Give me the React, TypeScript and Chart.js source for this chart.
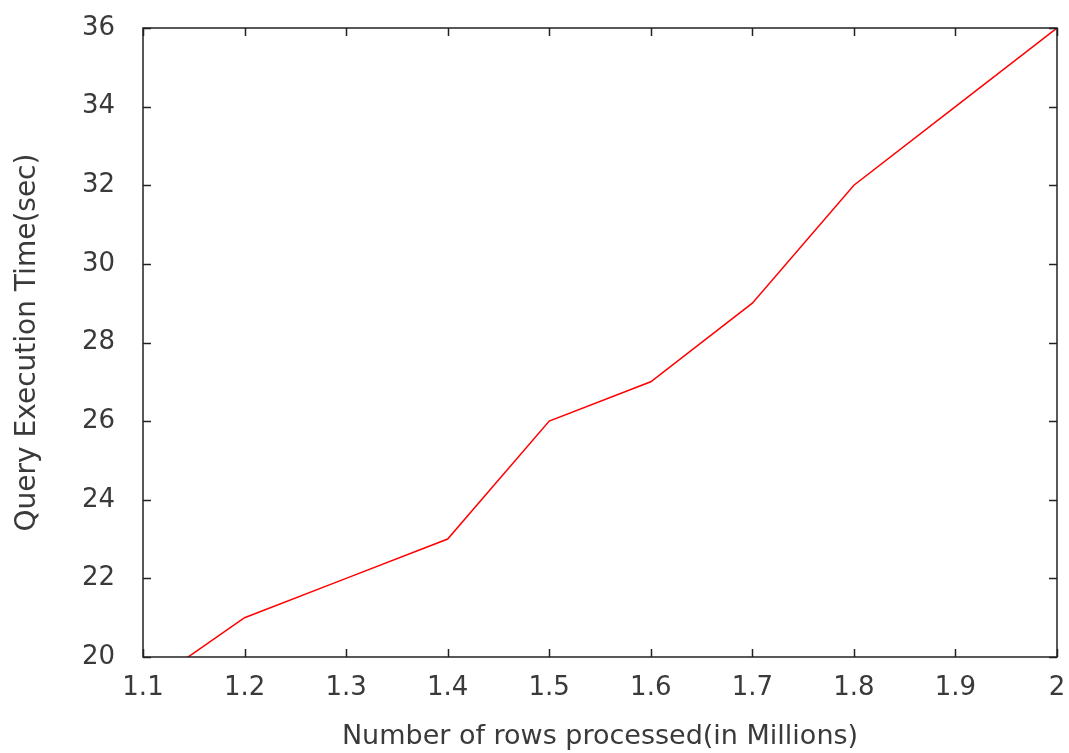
import React, { useEffect, useRef } from "react";
import { Chart, registerables } from "chart.js";

Chart.register(...registerables);

const rowsMillions = [1.1, 1.2, 1.3, 1.4, 1.5, 1.6, 1.7, 1.8, 1.9, 2.0];
const queryTimeSec = [19.2, 21, 22, 23, 26, 27, 29, 32, 34, 36];
const xTickValues = [1.1, 1.2, 1.3, 1.4, 1.5, 1.6, 1.7, 1.8, 1.9, 2];
const yTickValues = [20, 22, 24, 26, 28, 30, 32, 34, 36];

const TEXT = "#3a3a3a";
const FONT = "'DejaVu Sans', sans-serif";

const frameTicks = {
  id: "frameTicks",
  afterDraw(chart: any) {
    const { ctx, chartArea } = chart;
    const xs = chart.scales.x;
    const ys = chart.scales.y;
    const L = 8;
    ctx.save();
    ctx.strokeStyle = "#222222";
    ctx.lineWidth = 1.5;
    ctx.beginPath();
    for (const v of xTickValues) {
      const px = Math.round(xs.getPixelForValue(v)) + 0.5;
      ctx.moveTo(px, chartArea.bottom);
      ctx.lineTo(px, chartArea.bottom - L);
      ctx.moveTo(px, chartArea.top);
      ctx.lineTo(px, chartArea.top + L);
    }
    for (const v of yTickValues) {
      const py = Math.round(ys.getPixelForValue(v)) + 0.5;
      ctx.moveTo(chartArea.left, py);
      ctx.lineTo(chartArea.left + L, py);
      ctx.moveTo(chartArea.right, py);
      ctx.lineTo(chartArea.right - L, py);
    }
    ctx.stroke();
    ctx.strokeRect(chartArea.left, chartArea.top, chartArea.right - chartArea.left, chartArea.bottom - chartArea.top);
    ctx.restore();
  },
};

export default function App() {
  const ref = useRef<HTMLCanvasElement>(null);
  useEffect(() => {
    document.body.style.margin = "0";
    const c = ref.current!;
    const chart = new Chart(c, {
      type: "line",
      data: {
        datasets: [
          {
            data: rowsMillions.map((x, i) => ({ x, y: queryTimeSec[i] })),
            borderColor: "#ff0000",
            borderWidth: 1.5,
            pointRadius: 0,
            tension: 0,
            fill: false,
          },
        ],
      },
      options: {
        animation: false,
        responsive: false,
        maintainAspectRatio: false,
        layout: { padding: { top: 28, right: 12, left: 0, bottom: 0 } },
        plugins: { legend: { display: false }, tooltip: { enabled: false } },
        scales: {
          x: {
            type: "linear",
            min: 1.1,
            max: 2,
            afterBuildTicks: (s: any) => {
              s.ticks = xTickValues.map((v) => ({ value: v }));
            },
            afterFit: (s: any) => {
              s.height = 96;
              s.paddingLeft = 0;
              s.paddingRight = 0;
            },
            grid: { display: false, drawTicks: false },
            border: { display: false },
            ticks: {
              color: TEXT,
              font: { family: FONT, size: 26 },
              padding: 16,
              maxRotation: 0,
              autoSkip: false,
              callback: (v: any) => String(Math.round(Number(v) * 10) / 10),
            },
            title: {
              display: true,
              text: "Number of rows processed(in Millions)",
              color: TEXT,
              font: { family: FONT, size: 27 },
              padding: { top: 0, bottom: 0 },
            },
          },
          y: {
            type: "linear",
            min: 20,
            max: 36,
            afterBuildTicks: (s: any) => {
              s.ticks = yTickValues.map((v) => ({ value: v }));
            },
            afterFit: (s: any) => {
              s.width = 143;
              s.paddingTop = 0;
              s.paddingBottom = 0;
            },
            grid: { display: false, drawTicks: false },
            border: { display: false },
            ticks: {
              color: TEXT,
              font: { family: FONT, size: 26 },
              padding: 28,
              autoSkip: false,
            },
            title: {
              display: true,
              text: "Query Execution Time(sec)",
              color: TEXT,
              font: { family: FONT, size: 28 },
              padding: { top: 11, bottom: 11 },
            },
          },
        },
      },
      plugins: [frameTicks],
    });
    return () => chart.destroy();
  }, []);
  return <canvas ref={ref} width={1069} height={753} style={{ display: "block" }} />;
}
